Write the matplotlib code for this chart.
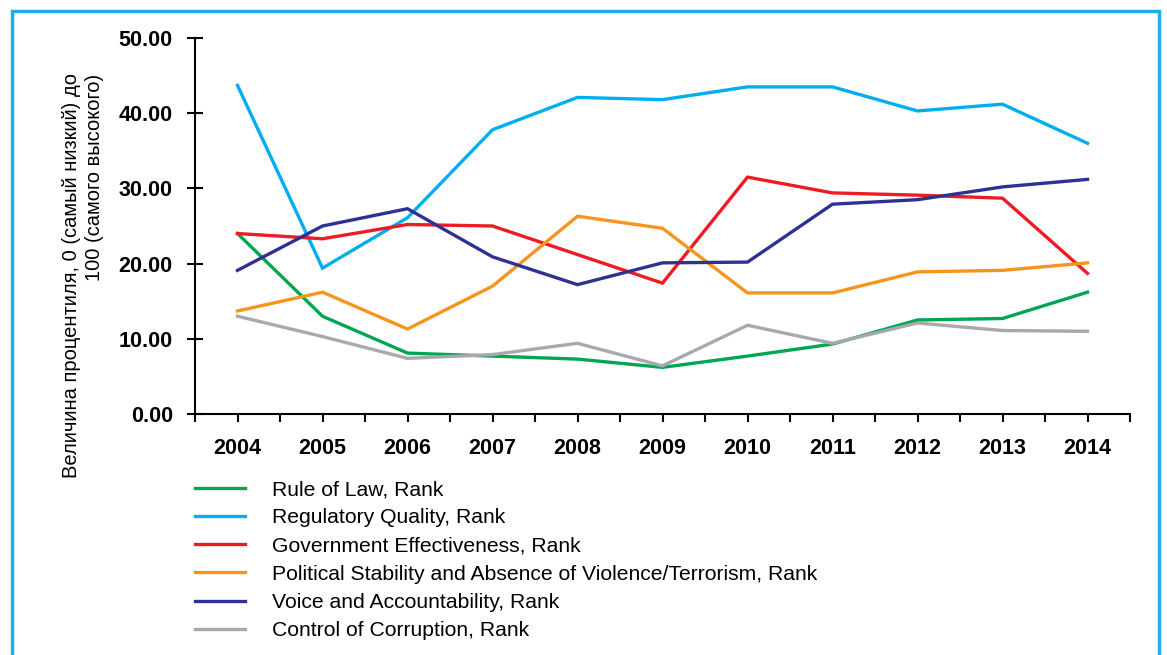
import numpy as np
import matplotlib.pyplot as plt
from matplotlib.patches import Rectangle

plt.rcParams['font.family'] = ['Liberation Sans', 'DejaVu Sans']

# data
years = ['2004', '2005', '2006', '2007', '2008', '2009', '2010', '2011', '2012', '2013', '2014']
rule_of_law = [24.0, 13.0, 8.1, 7.7, 7.3, 6.2, 7.7, 9.3, 12.5, 12.7, 16.2]
regulatory_quality = [43.7, 19.4, 26.1, 37.8, 42.1, 41.8, 43.5, 43.5, 40.3, 41.2, 36.0]
gov_effectiveness = [24.0, 23.3, 25.2, 25.0, 21.2, 17.4, 31.5, 29.4, 29.1, 28.7, 18.7]
political_stability = [13.7, 16.2, 11.3, 17.0, 26.3, 24.7, 16.1, 16.1, 18.9, 19.1, 20.1]
voice_accountability = [19.1, 25.0, 27.3, 20.9, 17.2, 20.1, 20.2, 27.9, 28.5, 30.2, 31.2]
control_corruption = [13.0, 10.3, 7.4, 7.9, 9.4, 6.4, 11.8, 9.4, 12.1, 11.1, 11.0]

series = [
    ('Rule of Law, Rank', rule_of_law, '#00A651'),
    ('Regulatory Quality, Rank', regulatory_quality, '#00AEEF'),
    ('Government Effectiveness, Rank', gov_effectiveness, '#ED1C24'),
    ('Political Stability and Absence of Violence/Terrorism, Rank', political_stability, '#F7941D'),
    ('Voice and Accountability, Rank', voice_accountability, '#2E3192'),
    ('Control of Corruption, Rank', control_corruption, '#A7A9AC'),
]

fig = plt.figure(figsize=(11.67, 6.55), dpi=100)
ax = fig.add_axes([195 / 1167, 1 - 414 / 655, (1130 - 195) / 1167, (414 - 38) / 655])

x = np.arange(len(years))
handles = []
for name, vals, col in series:
    h, = ax.plot(x, vals, color=col, lw=2.4, label=name, solid_joinstyle='miter')
    handles.append(h)

ax.set_xlim(-0.5, len(years) - 0.5)
ax.set_ylim(0, 50)

# ticks: boundaries + centers on x, labels only at centers
ax.set_xticks(np.arange(-0.5, len(years), 1.0))
ax.set_xticklabels([])
ax.set_xticks(x, minor=True)
ax.set_xticklabels(years, minor=True, fontsize=15.5, fontweight='bold')
ax.tick_params(axis='x', which='both', direction='out', length=6, width=1.5, pad=11)

ax.set_yticks(np.arange(0, 51, 10))
ax.set_yticklabels(['%.2f' % v for v in np.arange(0, 51, 10)], fontsize=15.5, fontweight='bold')
ax.tick_params(axis='y', direction='inout', length=12, width=1.5, pad=10)

for s in ['top', 'right']:
    ax.spines[s].set_visible(False)
ax.spines['left'].set_linewidth(1.5)
ax.spines['bottom'].set_linewidth(1.5)

fig.text(83 / 1167, 1 - 276 / 655,
         'Величина процентиля, 0 (самый низкий) до\n100 (самого высокого)',
         rotation=90, ha='center', va='center', multialignment='right', fontsize=14.5)

fig.legend(handles=handles, loc='upper left', bbox_to_anchor=(195 / 1167, 1 - 480 / 655),
           frameon=False, fontsize=15.2, handlelength=2.35, handletextpad=1.28,
           labelspacing=0.44, borderaxespad=0, borderpad=0)

# light blue frame around the figure
fig.add_artist(Rectangle((12 / 1167, -0.05), (1159 - 12) / 1167, 1.05 - 11 / 655,
                         transform=fig.transFigure, fill=False, edgecolor='#1BB0EC', lw=2.5))

fig.savefig('out.png', dpi=100)
